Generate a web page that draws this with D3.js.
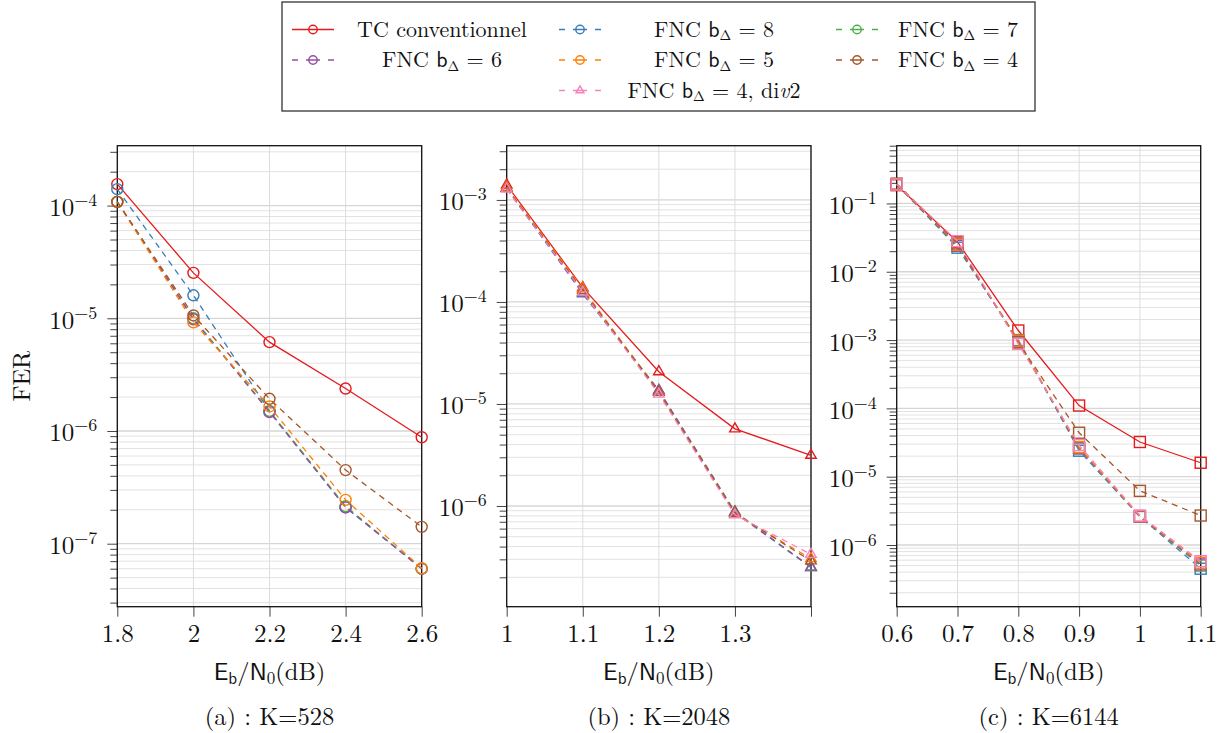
<!DOCTYPE html>
<html><head><meta charset="utf-8">
<script src="https://cdn.jsdelivr.net/npm/d3@7"></script>
<style>
body{margin:0;background:#fff;}
svg{display:block;}
</style></head><body>
<svg id="c" width="1224" height="733"></svg>
<script>
// ---------------- data ----------------
const seriesKeys = ["TC", "b8", "b7", "b6", "b5", "b4", "b4div2"];
const seriesColors = ["#e41a1c", "#377eb8", "#4daf4a", "#984ea3", "#ff7f00", "#a65628", "#f781bf"];
const legendValues = ["", "8", "7", "6", "5", "4", "4"];

// (a) K=528
const xA = [1.8, 2.0, 2.2, 2.4, 2.6];
const aTC   = [1.55e-4, 2.53e-5, 6.14e-6, 2.38e-6, 8.8e-7];
const aB8   = [1.40e-4, 1.60e-5, 1.50e-6, 2.10e-7, 6.0e-8];
const aB7   = [1.08e-4, 1.00e-5, 1.50e-6, 2.15e-7, 6.0e-8];
const aB6   = [1.08e-4, 9.8e-6,  1.47e-6, 2.10e-7, 6.0e-8];
const aB5   = [1.08e-4, 9.2e-6,  1.65e-6, 2.45e-7, 6.05e-8];
const aB4   = [1.08e-4, 1.06e-5, 1.93e-6, 4.5e-7,  1.41e-7];
const aTicks = [1.8, 2.0, 2.2, 2.4, 2.6];
const aTickLabels = ["1.8", "2", "2.2", "2.4", "2.6"];

// (b) K=2048
const xB = [1.0, 1.1, 1.2, 1.3, 1.4];
const bTC   = [1.40e-3, 1.38e-4, 2.07e-5, 5.7e-6,  3.14e-6];
const bB8   = [1.30e-3, 1.20e-4, 1.35e-5, 8.6e-7,  2.50e-7];
const bB7   = [1.32e-3, 1.25e-4, 1.35e-5, 8.8e-7,  2.50e-7];
const bB6   = [1.30e-3, 1.22e-4, 1.36e-5, 8.7e-7,  2.52e-7];
const bB5   = [1.33e-3, 1.35e-4, 1.30e-5, 8.3e-7,  3.05e-7];
const bB4   = [1.30e-3, 1.30e-4, 1.30e-5, 8.5e-7,  2.90e-7];
const bDiv2 = [1.28e-3, 1.25e-4, 1.25e-5, 8.2e-7,  3.36e-7];
const bTicks = [1.0, 1.1, 1.2, 1.3, 1.4];
const bTickLabels = ["1", "1.1", "1.2", "1.3", ""];

// (c) K=6144
const xC = [0.6, 0.7, 0.8, 0.9, 1.0, 1.1];
const cTC   = [0.185, 2.74e-2, 1.38e-3, 1.10e-4, 3.22e-5, 1.60e-5];
const cB8   = [0.19,  2.25e-2, 1.00e-3, 2.40e-5, 2.60e-6, 4.5e-7];
const cB7   = [0.19,  2.40e-2, 9.5e-4,  2.60e-5, 2.60e-6, 5.0e-7];
const cB6   = [0.19,  2.40e-2, 9.5e-4,  2.60e-5, 2.60e-6, 5.2e-7];
const cB5   = [0.19,  2.50e-2, 9.8e-4,  2.70e-5, 2.65e-6, 5.5e-7];
const cB4   = [0.195, 2.60e-2, 9.2e-4,  4.40e-5, 6.2e-6,  2.7e-6];
const cDiv2 = [0.19,  2.80e-2, 8.8e-4,  2.90e-5, 2.70e-6, 5.8e-7];
const cTicks = [0.6, 0.7, 0.8, 0.9, 1.0, 1.1];
const cTickLabels = ["0.6", "0.7", "0.8", "0.9", "1", "1.1"];

// ---------------- layout ----------------
const svg = d3.select("#c");
const TOP = 145.7, BOTTOM = 606.7;
const SERIF = "'Latin Modern Roman','CMU Serif','Liberation Serif',serif";
const SANS = "'Latin Modern Sans','CMU Sans Serif','DejaVu Sans',sans-serif";

const panels = [
  {left: 117.3, right: 421.7, x: xA, series: [aTC, aB8, aB7, aB6, aB5, aB4, null],
   xDom: [1.8, 2.6], yDom: [2.76e-8, 3.4e-4], ticks: aTicks, tickLabels: aTickLabels,
   marker: "circle", cap: "(a) : K=528", ylabel: true},
  {left: 506.7, right: 811, x: xB, series: [bTC, bB8, bB7, bB6, bB5, bB4, bDiv2],
   xDom: [1.0, 1.4], yDom: [1.03e-7, 3.4e-3], ticks: bTicks, tickLabels: bTickLabels,
   marker: "triangle", cap: "(b) : K=2048"},
  {left: 896.7, right: 1200.7, x: xC, series: [cTC, cB8, cB7, cB6, cB5, cB4, cDiv2],
   xDom: [0.6, 1.1], yDom: [1.25e-7, 0.7], ticks: cTicks, tickLabels: cTickLabels,
   marker: "square", cap: "(c) : K=6144"}
];

function drawMarker(g, type, cx, cy, color, size) {
  const s = size || 5.5;
  if (type === "circle") {
    g.append("circle").attr("cx", cx).attr("cy", cy).attr("r", s)
      .attr("fill", "none").attr("stroke", color).attr("stroke-width", 1.4);
  } else if (type === "square") {
    g.append("rect").attr("x", cx - s).attr("y", cy - s).attr("width", 2 * s).attr("height", 2 * s)
      .attr("fill", "none").attr("stroke", color).attr("stroke-width", 1.4);
  } else {
    const r = s * 1.1;
    const p = d3.path();
    p.moveTo(cx, cy - r);
    p.lineTo(cx + r * 0.866, cy + r * 0.5);
    p.lineTo(cx - r * 0.866, cy + r * 0.5);
    p.closePath();
    g.append("path").attr("d", p.toString()).attr("fill", "none")
      .attr("stroke", color).attr("stroke-width", 1.4).attr("stroke-linejoin", "miter");
  }
}

const supMinus = "\u2212";

panels.forEach(P => {
  const g = svg.append("g");
  const x = d3.scaleLinear().domain(P.xDom).range([P.left, P.right]);
  const y = d3.scaleLog().domain(P.yDom).range([BOTTOM, TOP]);

  const lo = Math.floor(Math.log10(P.yDom[0])), hi = Math.ceil(Math.log10(P.yDom[1]));
  const yTicks = [];
  for (let e = lo; e <= hi; e++) {
    for (let k = 1; k <= 9; k++) {
      const v = k * Math.pow(10, e);
      if (v >= P.yDom[0] * 0.9999 && v <= P.yDom[1] * 1.0001) yTicks.push({v, major: k === 1, e});
    }
  }

  // grid
  const grid = g.append("g");
  yTicks.forEach(t => {
    grid.append("line").attr("x1", P.left).attr("x2", P.right)
      .attr("y1", y(t.v)).attr("y2", y(t.v))
      .attr("stroke", t.major ? "#d6d6d6" : "#e2e2e2")
      .attr("stroke-width", t.major ? 1.3 : 1);
  });
  P.ticks.forEach(t => {
    grid.append("line").attr("x1", x(t)).attr("x2", x(t))
      .attr("y1", TOP).attr("y2", BOTTOM)
      .attr("stroke", "#dcdcdc").attr("stroke-width", 1);
  });

  // x axis
  const xAxis = d3.axisBottom(x).tickValues(P.ticks).tickSize(10).tickPadding(8)
    .tickFormat((d, i) => P.tickLabels[i]);
  const gx = g.append("g").attr("transform", `translate(0,${BOTTOM})`).call(xAxis)
    .attr("font-family", SERIF).attr("font-size", 25);
  gx.select(".domain").remove();
  gx.selectAll("line").attr("stroke", "#444").attr("stroke-width", 1);
  gx.selectAll("text").attr("font-size", 25).attr("font-family", SERIF).attr("fill", "#111");

  // y axis
  const yAxis = d3.axisLeft(y).tickValues(yTicks.map(t => t.v)).tickSize(10).tickPadding(10)
    .tickFormat(() => "");
  const gy = g.append("g").attr("transform", `translate(${P.left},0)`).call(yAxis)
    .attr("font-family", SERIF).attr("font-size", 25);
  gy.select(".domain").remove();
  gy.selectAll(".tick").each(function(d, i) {
    const t = yTicks[i];
    const tk = d3.select(this);
    tk.select("line").attr("x2", t.major ? -10 : -7).attr("stroke", "#444").attr("stroke-width", 1);
    const tx = tk.select("text");
    if (t.major) {
      tx.attr("dy", null).attr("y", 10).attr("x", -20).attr("font-size", 25)
        .attr("font-family", SERIF).attr("fill", "#111").text(null);
      tx.append("tspan").text("10");
      tx.append("tspan").attr("dy", -10).attr("font-size", 18).text(supMinus + Math.abs(t.e));
    }
  });

  // frame
  g.append("rect").attr("x", P.left).attr("y", TOP)
    .attr("width", P.right - P.left).attr("height", BOTTOM - TOP)
    .attr("fill", "none").attr("stroke", "#111").attr("stroke-width", 1.3);

  // series
  const line = d3.line().x(d => x(d[0])).y(d => y(d[1]));
  P.series.forEach((vals, si) => {
    if (!vals) return;
    const pts = P.x.map((xv, i) => [xv, vals[i]]);
    const sg = g.append("g");
    sg.append("path").attr("d", line(pts)).attr("fill", "none")
      .attr("stroke", seriesColors[si]).attr("stroke-width", 1.3)
      .attr("stroke-dasharray", si === 0 ? null : "6,5");
    pts.forEach(p => drawMarker(sg, P.marker, x(p[0]), y(p[1]), seriesColors[si], 5.5));
  });

  const cx = (P.left + P.right) / 2;
  const xl = g.append("text").attr("x", cx).attr("y", 680).attr("text-anchor", "middle")
    .attr("font-size", 24.5).attr("font-family", SERIF).attr("fill", "#111");
  xl.append("tspan").attr("font-family", SANS).text("E");
  xl.append("tspan").attr("font-family", SANS).attr("font-size", 17).attr("dy", 4).text("b");
  xl.append("tspan").attr("dy", -4).text("/");
  xl.append("tspan").attr("font-family", SANS).text("N");
  xl.append("tspan").attr("font-size", 17).attr("dy", 4).text("0");
  xl.append("tspan").attr("dy", -4).text("(dB)");

  g.append("text").attr("x", cx).attr("y", 725).attr("text-anchor", "middle")
    .attr("font-size", 24.5).attr("font-family", SERIF).attr("fill", "#111").text(P.cap);

  if (P.ylabel) {
    g.append("text").attr("transform", `translate(30,${(TOP + BOTTOM) / 2}) rotate(-90)`)
      .attr("text-anchor", "middle").attr("font-size", 24.5).attr("font-family", SERIF)
      .attr("fill", "#111").text("FER");
  }
});

// ---------------- legend ----------------
const lg = svg.append("g");
lg.append("rect").attr("x", 282).attr("y", 2).attr("width", 753).attr("height", 109)
  .attr("fill", "#fff").attr("stroke", "#333").attr("stroke-width", 1.3);

const legendPos = [
  {mx: 313, tx: 442, row: 0}, {mx: 580, tx: 714, row: 0}, {mx: 857, tx: 958, row: 0},
  {mx: 313, tx: 442, row: 1}, {mx: 580, tx: 714, row: 1}, {mx: 857, tx: 958, row: 1},
  {mx: 580, tx: 714, row: 2}
];
const rowY = [29.5, 60, 90.5];

seriesKeys.forEach((k, i) => {
  const pos = legendPos[i];
  const cy = rowY[pos.row];
  const color = seriesColors[i];
  if (i === 0) {
    lg.append("line").attr("x1", pos.mx - 21).attr("x2", pos.mx + 21).attr("y1", cy).attr("y2", cy)
      .attr("stroke", color).attr("stroke-width", 1.3);
  } else {
    lg.append("line").attr("x1", pos.mx - 21).attr("x2", pos.mx + 21).attr("y1", cy).attr("y2", cy)
      .attr("stroke", color).attr("stroke-width", 1.3).attr("stroke-dasharray", "6,8,14,8,6");
  }
  drawMarker(lg, i === 6 ? "triangle" : "circle", pos.mx, cy, color, 4.2);

  const t = lg.append("text").attr("x", pos.tx).attr("y", cy + 7).attr("text-anchor", "middle")
    .attr("font-size", 22).attr("font-family", SERIF).attr("fill", "#111");
  if (i === 0) {
    t.text("TC conventionnel");
  } else {
    t.append("tspan").text("FNC ");
    t.append("tspan").attr("font-family", SANS).text("b");
    t.append("tspan").attr("font-size", 14).attr("dy", 3.5).text("\u0394");
    t.append("tspan").attr("dy", -3.5).text(" = " + legendValues[i]);
    if (i === 6) {
      t.append("tspan").text(", di");
      t.append("tspan").attr("font-style", "italic").text("v");
      t.append("tspan").text("2");
    }
  }
});
</script>
</body></html>
